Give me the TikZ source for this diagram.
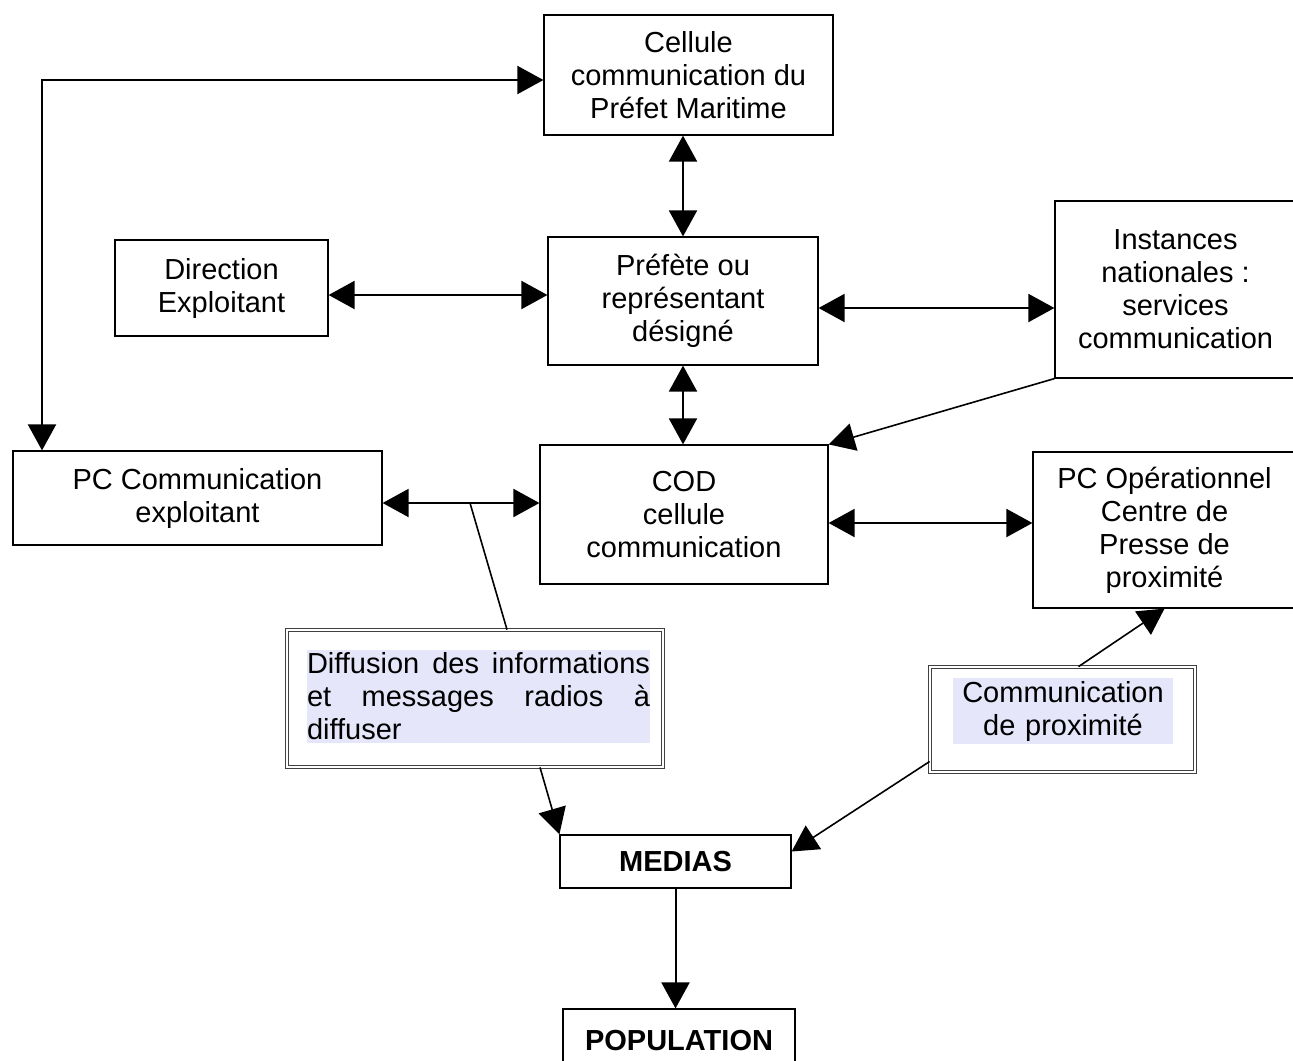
\documentclass[tikz,border=0pt]{standalone}
\usepackage{fontspec}
\setmainfont{Liberation Sans}
\usepackage{tikz}
\usetikzlibrary{positioning,arrows.meta}
\definecolor{lavanda}{RGB}{230,230,250}

\begin{document}
\begin{tikzpicture}[x=0.5pt,y=-0.5pt,
    font=\fontsize{14.5}{16.5}\selectfont,
    box/.style={draw, rectangle, line width=0.6pt, align=center, inner sep=0pt},
    dbox/.style={draw=black!75, rectangle, double, double distance=1pt, line width=0.4pt},
    hl/.style={fill=lavanda, inner xsep=0pt, inner ysep=1.5pt},
    arr/.style={line width=0.8pt, -{Triangle[length=13pt,width=14pt]}},
    arrs/.style={line width=1pt, {Triangle[length=13pt,width=14pt]}-{Triangle[length=13pt,width=14pt]}}]
    \useasboundingbox (0,0) rectangle (1293,1060);

    %caselle
    \node[box, minimum width=144.5pt, minimum height=60pt] (cellule) at (688.5,75) {Cellule\\communication du\\Préfet Maritime};
    \node[box, minimum width=135pt, minimum height=64pt] (prefete) at (683,301) {Préfète ou\\représentant\\désigné};
    \node[box, minimum width=106.5pt, minimum height=48pt] (direction) at (221.5,288) {Direction\\Exploitant};
    \node[box, minimum width=120.5pt, minimum height=88.5pt] (instances) at (1175.5,289.5) {Instances\\nationales :\\services\\communication};
    \node[box, minimum width=184.5pt, minimum height=47pt] (pccomm) at (197.5,498) {PC Communication\\exploitant};
    \node[box, minimum width=144pt, minimum height=69.5pt] (cod) at (684,514.5) {COD\\cellule\\communication};
    \node[box, minimum width=131.5pt, minimum height=78pt] (pcop) at (1164.5,530) {PC Opérationnel\\Centre de\\Presse de\\proximité};
    \node[box, minimum width=115.5pt, minimum height=26.5pt] (medias) at (675.5,861.5) {\textbf{MEDIAS}};
    \node[box, minimum width=116pt, minimum height=31pt] (population) at (679,1040) {\textbf{POPULATION}};

    %caselle doppie
    \node[dbox, minimum width=188pt, minimum height=68.5pt] (diffusion) at (475,698.5) {};
    \node[hl, text width=171.5pt, align=justify] (difftxt) at (478.5,696.5)
        {\tolerance=9999 \hyphenpenalty=10000 Diffusion des informations et messages radios à \mbox{diffuser}};
    \node[dbox, minimum width=132.5pt, minimum height=52.5pt] (proxim) at (1062.5,719.5) {};
    \node[hl, text width=110pt, align=center] (proxtxt) at (1063,711) {Communication\\de proximité};

    %frecce
    \coordinate (angolo) at (42,80);
    \draw[arrs] (pccomm.north -| angolo) -- (angolo) -- (cellule.west |- angolo);
    \draw[arrs] (prefete.north) -- (prefete.north |- cellule.south);
    \draw[arrs] ([yshift=-3.5pt]direction.east) -- ([yshift=-3.5pt]direction.east -| prefete.west);
    \draw[arrs] ([yshift=-3.5pt]prefete.east) -- ([yshift=-3.5pt]prefete.east -| instances.west);
    \draw[arrs] (prefete.south) -- (prefete.south |- cod.north);
    \draw[arr] (instances.south west) -- (cod.north east);
    \draw[arrs] ([yshift=-2.5pt]pccomm.east) -- ([yshift=-2.5pt]pccomm.east -| cod.west);
    \draw[arrs] ([yshift=-4.25pt]cod.east) -- ([yshift=-4.25pt]cod.east -| pcop.west);

    %diffusione
    \coordinate (diram) at (470,503);
    \draw[line width=0.8pt] (diram) -- ([xshift=16pt]diffusion.north);
    \draw[arr] ([xshift=32.5pt]diffusion.south) -- (medias.north west);
    \draw[arr] ([xshift=8pt]proxim.north) -- (pcop.south);
    \draw[arr] ([yshift=-21pt]proxim.west) -- ([yshift=5pt]medias.east);
    \draw[arr, line width=1pt] (medias.south) -- (medias.south |- population.north);
\end{tikzpicture}
\end{document}
